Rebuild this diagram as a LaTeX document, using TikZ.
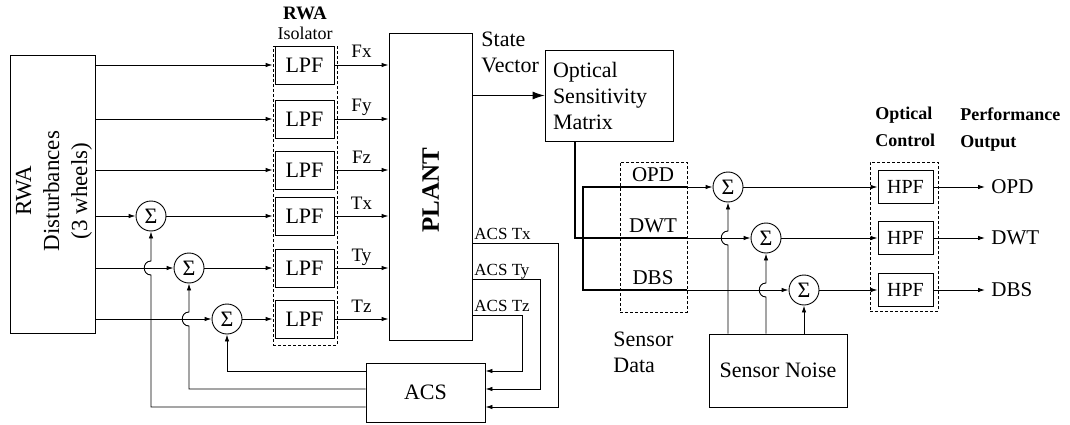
\documentclass[tikz,border=0pt]{standalone}
\usepackage{fontspec}
\setmainfont{Liberation Serif}
\usetikzlibrary{arrows.meta,calc}
\begin{document}
\begin{tikzpicture}[x=1pt,y=-1pt,
  font=\fontsize{21}{26}\selectfont,
  line width=0.9pt,
  box/.style={draw, inner sep=0pt},
  dbox/.style={draw, line width=0.8pt, dash pattern=on 3pt off 2pt, inner sep=0pt},
  sumn/.style={draw, circle, minimum size=30, inner sep=0pt, font=\fontsize{22}{22}\selectfont},
  arr/.style={-{Latex[length=7,width=4.5]}},
  thk/.style={line width=1.4pt},
  lblf/.style={font=\fontsize{19}{19}\selectfont, inner sep=0pt, anchor=base},
  acsl/.style={font=\fontsize{17}{17}\selectfont, inner sep=0pt, anchor=base west}]
\useasboundingbox (0,0) rectangle (1070,425);

% RWA disturbances
\node[box, minimum width=85, minimum height=278] (rwa) at (52.5,194) {};
\node[rotate=90, align=center, font=\fontsize{23}{28}\selectfont] (rwat) at (54,191) {RWA\\Disturbances\\(3 wheels)};

% Isolator
\node[font=\bfseries\fontsize{19}{19}\selectfont] (rwatitle) at (305,13) {RWA};
\node[font=\fontsize{18}{18}\selectfont] (isot) at (305,33) {Isolator};
\node[dbox, minimum width=64, minimum height=299] (iso) at (305,195.5) {};
\foreach \i/\y in {1/65,2/119,3/170,4/216,5/268,6/319}
  \node[box, minimum width=59, minimum height=38, font=\fontsize{22}{22}\selectfont] (l\i) at (304.5,\y) {LPF};

% Plant
\node[box, minimum width=83, minimum height=307] (plant) at (430.5,186.5) {};
\node[rotate=90, font=\bfseries\fontsize{25}{25}\selectfont] (plantt) at (430.5,190) {PLANT};

% forces into plant
\foreach \i/\t/\y in {1/Fx/65,2/Fy/119,3/Fz/170,4/Tx/216,5/Ty/268,6/Tz/319}{
  \draw[arr] (l\i.east) -- (l\i.east -| plant.west);
  \node[lblf] (fl\i) at (361.5,\y-7) {\t};
}

% sums left
\node[sumn] (s4) at (151,216) {Σ};
\node[sumn] (s5) at (189,268) {Σ};
\node[sumn] (s6) at (227,319) {Σ};

\foreach \i in {1,2,3}
  \draw[arr] (rwa.east |- l\i.west) -- (iso.west |- l\i.west);
\foreach \i in {4,5,6}{
  \draw[arr] (rwa.east |- s\i) -- (s\i.west);
  \draw[arr] (s\i.east) -- (iso.west |- s\i);
}

% ACS
\node[box, minimum width=119, minimum height=59, font=\fontsize{22}{22}\selectfont] (acs) at (425.5,392.5) {ACS};
\node[acsl] (atx) at (474,239) {ACS Tx};
\node[acsl] (aty) at (474,275) {ACS Ty};
\node[acsl] (atz) at (474,311) {ACS Tz};
\draw[arr] (plant.east |- 0,243) -| (558,407) -- (acs.east |- 0,407);
\draw[arr] (plant.east |- 0,279) -| (540,389) -- (acs.east |- 0,389);
\draw[arr] (plant.east |- 0,315) -| (522,371) -- (acs.east |- 0,371);

\draw[arr] (acs.west |- 0,371) -| (s6.south);
\draw[arr] (acs.west |- 0,389) -| (189,326) .. controls (180,326) and (180,312) .. (189,312) -- (s5.south);
\draw[arr] (acs.west |- 0,407) -| (151,275) .. controls (142,275) and (142,261) .. (151,261) -- (s4.south);

% State vector and optical sensitivity
\node[anchor=north west, align=left, inner sep=0pt, font=\fontsize{22}{26}\selectfont] (sv) at (481,31) {State\\Vector};
\node[box, minimum width=128, minimum height=91, text width=112, align=left, font=\fontsize{22}{26}\selectfont] (osm) at (609,95.5) {Optical\\Sensitivity\\Matrix};
\draw[-{Latex[length=12,width=8]}] (plant.east |- osm.west) -- (osm.west);

% Sensor data
\node[dbox, minimum width=67, minimum height=150] (sd) at (653.5,237) {};
\node[anchor=base, inner sep=0pt] (sdo) at (653,181) {OPD};
\node[anchor=base, inner sep=0pt] (sdw) at (653,232) {DWT};
\node[anchor=base, inner sep=0pt] (sdb) at (653,284) {DBS};
\node[anchor=north west, align=left, inner sep=0pt, font=\fontsize{22}{26}\selectfont] (sdl) at (613,331) {Sensor\\Data};

% sums right
\node[sumn] (so1) at (728,187) {Σ};
\node[sumn] (so2) at (766,238) {Σ};
\node[sumn] (so3) at (804,290) {Σ};

\draw[thk] (osm.south -| 575,0) -- (575,238) -- (sd.east |- so2);
\draw[thk] (sd.east |- so1) -| (583,290) -- (sd.east |- so3);
\draw[arr] (sd.east |- so1) -- (so1.west);
\draw[arr] (sd.east |- so2) -- (so2.west);
\draw[arr] (sd.east |- so3) -- (so3.west);

% Sensor noise
\node[box, minimum width=138, minimum height=73, font=\fontsize{22}{22}\selectfont] (noise) at (778,370.5) {Sensor Noise};
\draw[arr] (so1 |- noise.north) -- (728,245) .. controls (719,245) and (719,231) .. (728,231) -- (so1.south);
\draw[arr] (so2 |- noise.north) -- (766,297) .. controls (757,297) and (757,283) .. (766,283) -- (so2.south);
\draw[arr] (so3 |- noise.north) -- (so3.south);

% Optical control
\node[anchor=north west, align=left, inner sep=0pt, font=\bfseries\fontsize{18}{27}\selectfont] (ochead) at (875,107) {Optical\\Control};
\node[anchor=north west, align=left, inner sep=0pt, font=\bfseries\fontsize{18}{27}\selectfont] (pohead) at (960,107) {Performance\\Output};
\node[dbox, minimum width=68, minimum height=149] (oc) at (904,236.5) {};
\node[box, minimum width=55, minimum height=33, font=\fontsize{20}{20}\selectfont] (h1) at (905.5,187) {HPF};
\node[box, minimum width=55, minimum height=33, font=\fontsize{20}{20}\selectfont] (h2) at (905.5,238) {HPF};
\node[box, minimum width=55, minimum height=33, font=\fontsize{20}{20}\selectfont] (h3) at (905.5,290) {HPF};
\draw[arr] (so1.east) -- (h1.west);
\draw[arr] (so2.east) -- (h2.west);
\draw[arr] (so3.east) -- (h3.west);

\node[anchor=west, inner xsep=6pt, inner ysep=0pt] (p1) at (985,187) {OPD};
\node[anchor=west, inner xsep=6pt, inner ysep=0pt] (p2) at (985,238) {DWT};
\node[anchor=west, inner xsep=6pt, inner ysep=0pt] (p3) at (985,290) {DBS};
\draw[arr] (h1.east) -- (p1.west);
\draw[arr] (h2.east) -- (p2.west);
\draw[arr] (h3.east) -- (p3.west);
\end{tikzpicture}
\end{document}
